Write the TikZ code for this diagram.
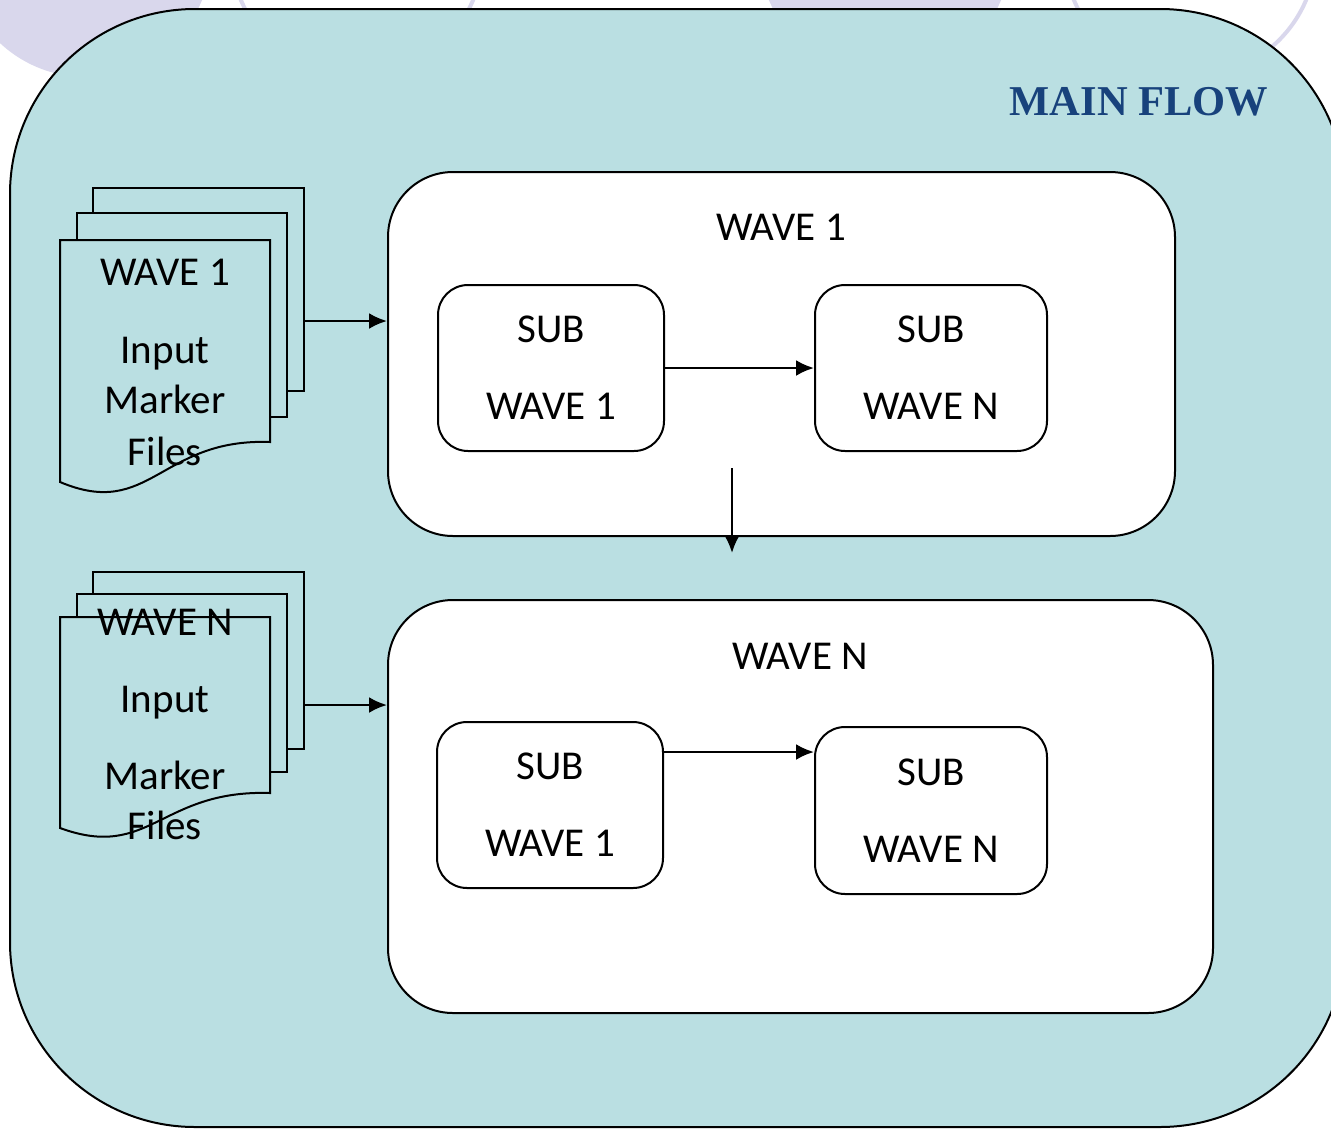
\documentclass[tikz,border=0pt]{standalone}
\usepackage{fontspec}
\setmainfont{Carlito}
\newfontfamily\titlefont{Liberation Serif}
\usetikzlibrary{arrows.meta}
\definecolor{flowteal}{RGB}{186, 223, 226}
\definecolor{mistlilac}{RGB}{217, 215, 236}
\definecolor{titleblue}{RGB}{24, 66, 124}
\tikzset{
    wavebox/.style={draw, line width=2pt, fill=white, rounded corners=65pt},
    subbox/.style={draw, line width=2pt, fill=white, rounded corners=30pt, minimum height=166pt,
                   align=center, font=\fontsize{41}{77}\selectfont},
    sheet/.style={draw, line width=2pt, fill=flowteal},
    txt/.style={anchor=base, inner sep=0pt, font=\fontsize{41}{48}\selectfont},
    flow/.style={line width=2.5pt, -{Latex[length=18pt, width=16pt]}}
}
\begin{document}
\begin{tikzpicture}[x=1pt, y=-1pt]
            % Frame
            \useasboundingbox (0,0) rectangle (1331,1128);
            \clip             (0,0) rectangle (1331,1128);
            % Backdrop rings
            \fill[mistlilac]                  (  86,-49) circle (126pt);
            \draw[mistlilac, line width=4pt]  ( 357,-49) circle (126pt);
            \fill[mistlilac]                  ( 885,-49) circle (126pt);
            \draw[mistlilac, line width=4pt]  (1190,-49) circle (126pt);
            % Main flow
            \draw[line width=2pt, fill=flowteal, rounded corners=185pt] (10,9) rectangle (1345,1127);
            \node[anchor=base, inner sep=0pt, text=titleblue, font=\titlefont\bfseries\fontsize{42.5}{50}\selectfont]
                 (mainflow) at (1139,115) {MAIN FLOW};
            % Wave 1
            \node[wavebox, minimum width=787pt, minimum height=364pt] (waveA)  at (781.5,354) {};
            \node[txt]                                                (waveAt) at (781,240)   {WAVE 1};
            \node[subbox, minimum width=226pt]                        (subA1)  at (551,368)   {SUB\\WAVE 1};
            \node[subbox, minimum width=232pt]                        (subAN)  at (931,368)   {SUB\\WAVE N};
            \draw[flow] (subA1) -- (subAN);
            % Wave N
            \node[wavebox, minimum width=825pt, minimum height=413pt] (waveB)  at (800.5,806.5) {};
            \node[txt]                                                (waveBt) at (800,669)     {WAVE N};
            \node[subbox, minimum width=226pt]                        (subB1)  at (550,805)     {SUB\\WAVE 1};
            \node[subbox, minimum width=232pt, minimum height=167pt]  (subBN)  at (931,810.5)   {SUB\\WAVE N};
            \coordinate (stepB) at (740,752);
            \draw[flow] (subB1.east |- stepB) -- (subBN.west |- stepB);
            % Wave 1 to wave N
            \coordinate (downA) at (732,468);
            \coordinate (downB) at (732,553);
            \draw[flow] (downA) -- (downB);
            % Input marker files, wave 1
            \draw[sheet] (93,188) rectangle (304,391);
            \draw[sheet] (77,213) rectangle (287,417);
            \draw[sheet] (60,482) -- (60,240) -- (270,240) -- (270,442) .. controls (160,438) and (150,520) .. (60,482) -- cycle;
            \node[txt] (fileA1) at (165,285) {WAVE 1};
            \node[txt] (fileA2) at (165,363) {Input};
            \node[txt] (fileA3) at (165,413) {Marker};
            \node[txt] (fileA4) at (165,465) {Files};
            \coordinate (fileAout) at (304,321);
            \draw[flow] (fileAout) -- (waveA.west |- fileAout);
            % Input marker files, wave N
            \draw[sheet] (93,572) rectangle (304,749);
            \draw[sheet] (77,594) rectangle (287,772);
            \draw[sheet] (60,828) -- (60,617) -- (270,617) -- (270,793) .. controls (160,789.5) and (150,861) .. (60,828) -- cycle;
            \node[txt] (fileB1) at (165,635) {WAVE N};
            \node[txt] (fileB2) at (165,712) {Input};
            \node[txt] (fileB3) at (165,789) {Marker};
            \node[txt] (fileB4) at (165,839) {Files};
            \coordinate (fileBout) at (304,705);
            \draw[flow] (fileBout) -- (waveB.west |- fileBout);
\end{tikzpicture}
\end{document}
